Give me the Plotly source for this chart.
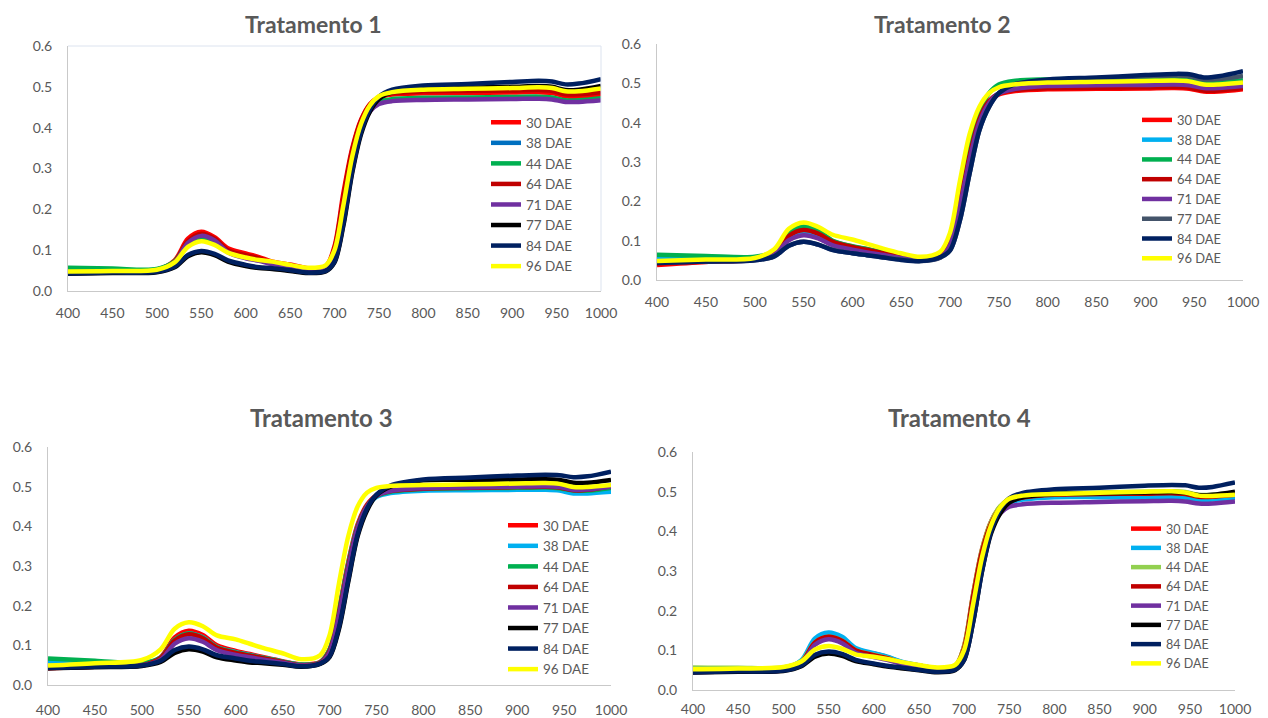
import plotly.graph_objects as go

# Wavelength (nm) sample points
WL = [400, 450, 500, 520, 535, 550, 565, 580, 600, 615, 630, 650, 670, 690, 700,
      710, 720, 730, 740, 750, 765, 800, 850, 900, 930, 945, 960, 975, 1000]

SERIES = ["30 DAE", "38 DAE", "44 DAE", "64 DAE", "71 DAE", "77 DAE", "84 DAE", "96 DAE"]
TITLES = ["Tratamento 1", "Tratamento 2", "Tratamento 3", "Tratamento 4"]
X_TICKS = [400, 450, 500, 550, 600, 650, 700, 750, 800, 850, 900, 950, 1000]
Y_TICKS = [0.0, 0.1, 0.2, 0.3, 0.4, 0.5, 0.6]

# ---- Tratamento 1 ----
T1_30 = [0.050, 0.050, 0.052, 0.075, 0.128, 0.145, 0.132, 0.105, 0.092, 0.083, 0.072, 0.065, 0.056, 0.060, 0.110, 0.240, 0.350, 0.420, 0.458, 0.474, 0.481, 0.484, 0.485, 0.486, 0.487, 0.485, 0.477, 0.476, 0.481]
T1_38 = [0.052, 0.051, 0.052, 0.072, 0.118, 0.132, 0.122, 0.098, 0.084, 0.077, 0.068, 0.062, 0.053, 0.057, 0.100, 0.220, 0.330, 0.405, 0.445, 0.462, 0.468, 0.470, 0.471, 0.472, 0.473, 0.471, 0.465, 0.465, 0.469]
T1_44 = [0.057, 0.055, 0.054, 0.073, 0.118, 0.130, 0.120, 0.097, 0.083, 0.076, 0.068, 0.062, 0.054, 0.058, 0.100, 0.220, 0.330, 0.405, 0.445, 0.463, 0.470, 0.473, 0.474, 0.475, 0.476, 0.474, 0.467, 0.467, 0.472]
T1_64 = [0.046, 0.047, 0.049, 0.071, 0.122, 0.140, 0.128, 0.100, 0.088, 0.080, 0.070, 0.063, 0.054, 0.058, 0.105, 0.230, 0.345, 0.418, 0.457, 0.475, 0.484, 0.489, 0.490, 0.491, 0.492, 0.490, 0.482, 0.482, 0.487]
T1_71 = [0.045, 0.046, 0.048, 0.069, 0.118, 0.135, 0.124, 0.095, 0.080, 0.074, 0.066, 0.060, 0.052, 0.055, 0.090, 0.200, 0.320, 0.400, 0.440, 0.458, 0.465, 0.468, 0.469, 0.470, 0.471, 0.469, 0.463, 0.463, 0.467]
T1_77 = [0.042, 0.044, 0.046, 0.058, 0.085, 0.095, 0.088, 0.072, 0.061, 0.056, 0.054, 0.049, 0.044, 0.048, 0.070, 0.160, 0.290, 0.385, 0.440, 0.470, 0.487, 0.496, 0.498, 0.500, 0.502, 0.500, 0.492, 0.493, 0.502]
T1_84 = [0.043, 0.045, 0.047, 0.060, 0.088, 0.098, 0.091, 0.075, 0.064, 0.058, 0.056, 0.051, 0.045, 0.049, 0.072, 0.165, 0.295, 0.390, 0.445, 0.476, 0.493, 0.503, 0.507, 0.512, 0.515, 0.513, 0.506, 0.508, 0.519]
T1_96 = [0.048, 0.049, 0.052, 0.070, 0.108, 0.122, 0.113, 0.094, 0.082, 0.076, 0.072, 0.064, 0.057, 0.063, 0.100, 0.210, 0.330, 0.410, 0.455, 0.477, 0.487, 0.493, 0.495, 0.497, 0.499, 0.497, 0.489, 0.489, 0.496]

# ---- Tratamento 2 ----
T2_30 = [0.038, 0.046, 0.052, 0.068, 0.112, 0.127, 0.118, 0.098, 0.085, 0.078, 0.070, 0.060, 0.053, 0.060, 0.095, 0.200, 0.320, 0.410, 0.455, 0.472, 0.480, 0.485, 0.486, 0.487, 0.488, 0.486, 0.479, 0.479, 0.485]
T2_38 = [0.055, 0.052, 0.053, 0.066, 0.106, 0.120, 0.111, 0.092, 0.080, 0.073, 0.066, 0.058, 0.051, 0.058, 0.090, 0.190, 0.310, 0.405, 0.452, 0.475, 0.485, 0.492, 0.494, 0.495, 0.495, 0.492, 0.486, 0.487, 0.494]
T2_44 = [0.064, 0.061, 0.059, 0.072, 0.120, 0.136, 0.125, 0.100, 0.086, 0.079, 0.071, 0.061, 0.054, 0.062, 0.095, 0.205, 0.330, 0.425, 0.475, 0.497, 0.506, 0.510, 0.512, 0.514, 0.515, 0.512, 0.503, 0.503, 0.508]
T2_64 = [0.042, 0.047, 0.052, 0.068, 0.112, 0.127, 0.118, 0.097, 0.084, 0.077, 0.069, 0.059, 0.052, 0.059, 0.092, 0.195, 0.315, 0.408, 0.455, 0.474, 0.483, 0.488, 0.489, 0.490, 0.491, 0.489, 0.482, 0.482, 0.488]
T2_71 = [0.045, 0.047, 0.051, 0.064, 0.101, 0.114, 0.106, 0.088, 0.077, 0.070, 0.064, 0.056, 0.050, 0.057, 0.088, 0.185, 0.305, 0.400, 0.450, 0.474, 0.485, 0.493, 0.495, 0.496, 0.497, 0.495, 0.488, 0.488, 0.493]
T2_77 = [0.045, 0.047, 0.050, 0.060, 0.087, 0.097, 0.090, 0.077, 0.068, 0.063, 0.058, 0.052, 0.048, 0.057, 0.075, 0.150, 0.270, 0.380, 0.440, 0.475, 0.496, 0.508, 0.513, 0.518, 0.520, 0.518, 0.510, 0.511, 0.519]
T2_84 = [0.043, 0.047, 0.050, 0.060, 0.087, 0.097, 0.090, 0.076, 0.068, 0.063, 0.058, 0.051, 0.048, 0.058, 0.075, 0.150, 0.270, 0.380, 0.440, 0.475, 0.497, 0.510, 0.515, 0.521, 0.524, 0.523, 0.515, 0.518, 0.531]
T2_96 = [0.048, 0.052, 0.056, 0.078, 0.130, 0.146, 0.135, 0.115, 0.103, 0.092, 0.081, 0.068, 0.059, 0.072, 0.120, 0.250, 0.370, 0.440, 0.475, 0.490, 0.497, 0.502, 0.504, 0.506, 0.507, 0.505, 0.497, 0.497, 0.502]

# ---- Tratamento 3 ----
T3_30 = [0.042, 0.046, 0.050, 0.070, 0.120, 0.137, 0.126, 0.100, 0.086, 0.078, 0.070, 0.060, 0.052, 0.058, 0.090, 0.190, 0.310, 0.405, 0.455, 0.478, 0.488, 0.492, 0.493, 0.494, 0.495, 0.493, 0.487, 0.489, 0.500]
T3_38 = [0.059, 0.056, 0.053, 0.068, 0.114, 0.130, 0.120, 0.096, 0.083, 0.076, 0.068, 0.059, 0.051, 0.057, 0.088, 0.185, 0.305, 0.400, 0.450, 0.474, 0.484, 0.490, 0.491, 0.492, 0.492, 0.490, 0.483, 0.483, 0.487]
T3_44 = [0.067, 0.061, 0.056, 0.069, 0.114, 0.130, 0.119, 0.095, 0.082, 0.075, 0.068, 0.059, 0.051, 0.057, 0.088, 0.185, 0.305, 0.400, 0.452, 0.476, 0.487, 0.494, 0.496, 0.497, 0.498, 0.496, 0.490, 0.490, 0.497]
T3_64 = [0.043, 0.046, 0.050, 0.068, 0.112, 0.128, 0.118, 0.094, 0.081, 0.074, 0.067, 0.058, 0.050, 0.056, 0.085, 0.180, 0.300, 0.398, 0.452, 0.477, 0.489, 0.495, 0.497, 0.499, 0.500, 0.498, 0.491, 0.492, 0.502]
T3_71 = [0.044, 0.046, 0.049, 0.064, 0.104, 0.118, 0.109, 0.088, 0.076, 0.070, 0.064, 0.056, 0.049, 0.055, 0.082, 0.175, 0.295, 0.395, 0.450, 0.477, 0.489, 0.496, 0.498, 0.500, 0.501, 0.499, 0.492, 0.493, 0.500]
T3_77 = [0.042, 0.045, 0.048, 0.058, 0.081, 0.090, 0.084, 0.070, 0.062, 0.057, 0.055, 0.051, 0.046, 0.053, 0.070, 0.140, 0.260, 0.375, 0.440, 0.478, 0.500, 0.516, 0.517, 0.518, 0.519, 0.517, 0.510, 0.510, 0.517]
T3_84 = [0.043, 0.046, 0.049, 0.061, 0.088, 0.097, 0.090, 0.075, 0.067, 0.061, 0.058, 0.053, 0.047, 0.054, 0.072, 0.145, 0.265, 0.380, 0.445, 0.480, 0.503, 0.518, 0.523, 0.528, 0.530, 0.529, 0.524, 0.526, 0.538]
T3_96 = [0.049, 0.055, 0.063, 0.090, 0.142, 0.158, 0.148, 0.125, 0.115, 0.104, 0.093, 0.080, 0.065, 0.075, 0.125, 0.255, 0.375, 0.450, 0.485, 0.497, 0.502, 0.504, 0.506, 0.508, 0.509, 0.507, 0.499, 0.499, 0.504]

# ---- Tratamento 4 ----
T4_30 = [0.048, 0.050, 0.053, 0.072, 0.122, 0.136, 0.126, 0.102, 0.092, 0.083, 0.071, 0.062, 0.055, 0.060, 0.110, 0.240, 0.355, 0.425, 0.462, 0.480, 0.488, 0.494, 0.496, 0.498, 0.499, 0.497, 0.490, 0.490, 0.495]
T4_38 = [0.052, 0.052, 0.054, 0.075, 0.130, 0.145, 0.134, 0.106, 0.093, 0.084, 0.072, 0.062, 0.055, 0.059, 0.105, 0.230, 0.345, 0.415, 0.455, 0.472, 0.480, 0.486, 0.486, 0.486, 0.487, 0.485, 0.479, 0.480, 0.485]
T4_44 = [0.057, 0.056, 0.057, 0.073, 0.120, 0.134, 0.124, 0.100, 0.089, 0.081, 0.070, 0.062, 0.055, 0.060, 0.110, 0.240, 0.355, 0.425, 0.463, 0.481, 0.490, 0.496, 0.498, 0.500, 0.501, 0.499, 0.492, 0.492, 0.497]
T4_64 = [0.046, 0.048, 0.051, 0.070, 0.120, 0.134, 0.124, 0.100, 0.088, 0.080, 0.069, 0.060, 0.053, 0.058, 0.105, 0.235, 0.350, 0.420, 0.458, 0.476, 0.485, 0.492, 0.494, 0.495, 0.496, 0.494, 0.487, 0.487, 0.492]
T4_71 = [0.045, 0.047, 0.050, 0.067, 0.114, 0.128, 0.118, 0.094, 0.083, 0.076, 0.066, 0.058, 0.051, 0.055, 0.095, 0.215, 0.330, 0.405, 0.445, 0.462, 0.468, 0.472, 0.474, 0.476, 0.477, 0.475, 0.470, 0.470, 0.475]
T4_77 = [0.044, 0.046, 0.048, 0.060, 0.084, 0.092, 0.086, 0.073, 0.065, 0.059, 0.055, 0.050, 0.045, 0.050, 0.075, 0.170, 0.300, 0.395, 0.445, 0.472, 0.486, 0.494, 0.496, 0.498, 0.499, 0.497, 0.491, 0.492, 0.500]
T4_84 = [0.045, 0.047, 0.049, 0.062, 0.089, 0.097, 0.091, 0.076, 0.067, 0.061, 0.057, 0.051, 0.046, 0.051, 0.075, 0.170, 0.300, 0.400, 0.455, 0.483, 0.497, 0.506, 0.510, 0.515, 0.517, 0.516, 0.510, 0.512, 0.523]
T4_96 = [0.052, 0.054, 0.058, 0.072, 0.102, 0.111, 0.104, 0.090, 0.084, 0.078, 0.071, 0.063, 0.057, 0.063, 0.100, 0.215, 0.335, 0.415, 0.460, 0.482, 0.490, 0.494, 0.497, 0.500, 0.501, 0.498, 0.490, 0.489, 0.492]

PANEL_DATA = [
    [T1_30, T1_38, T1_44, T1_64, T1_71, T1_77, T1_84, T1_96],
    [T2_30, T2_38, T2_44, T2_64, T2_71, T2_77, T2_84, T2_96],
    [T3_30, T3_38, T3_44, T3_64, T3_71, T3_77, T3_84, T3_96],
    [T4_30, T4_38, T4_44, T4_64, T4_71, T4_77, T4_84, T4_96],
]

PANEL_COLORS = [
    ["#FF0000", "#0070C0", "#00B050", "#C00000", "#7030A0", "#000000", "#002060", "#FFFF00"],
    ["#FF0000", "#00B0F0", "#00B050", "#C00000", "#7030A0", "#44546A", "#002060", "#FFFF00"],
    ["#FF0000", "#00B0F0", "#00B050", "#C00000", "#7030A0", "#000000", "#002060", "#FFFF00"],
    ["#FF0000", "#00B0F0", "#92D050", "#C00000", "#7030A0", "#000000", "#002060", "#FFFF00"],
]

W, H = 1268, 718
FONT = "Lato, 'Open Sans', sans-serif"
TXT = "#595959"

# plot-area pixel boxes: (left, right, top, bottom)
BOXES = [(68, 601, 46, 291), (657, 1243, 44, 280), (48, 611, 447, 685), (693, 1235, 452, 690)]
TITLE_POS = [(313, 24), (942, 24), (322, 417), (959, 417)]
TITLE_SIZE = [23, 23, 24, 24]
LEGEND_POS = [(486, 107), (1137, 105), (503, 510), (1126, 514)]
LEGEND_FONT = [13.5, 12.9, 13.5, 12.5]
X_STANDOFF = [9, 9, 12, 6]

fig = go.Figure()
layout = dict(template="none", width=W, height=H, margin=dict(l=0, r=0, t=0, b=0, pad=0),
              autosize=False, paper_bgcolor="white", plot_bgcolor="white",
              font=dict(family=FONT, color=TXT, size=14), annotations=[], shapes=[])

for p in range(4):
    sfx = "" if p == 0 else str(p + 1)
    leg = "legend" + sfx
    for s, name in enumerate(SERIES):
        fig.add_trace(go.Scatter(
            x=WL, y=PANEL_DATA[p][s], name=name, mode="lines",
            line=dict(color=PANEL_COLORS[p][s], width=4.5, shape="spline", smoothing=0.9),
            xaxis="x" + sfx, yaxis="y" + sfx, legend=leg, showlegend=True,
            hoverinfo="x+y+name"))
    l, r, t, b = BOXES[p]
    lc = "#C9C9C9"
    layout["xaxis" + sfx] = dict(domain=[l / W, r / W], range=[400, 1000], tickvals=X_TICKS,
                                 showline=True, linecolor=lc, linewidth=1, showgrid=False,
                                 zeroline=False, ticks="", anchor="y" + sfx, fixedrange=True,
                                 automargin=False, ticklabelstandoff=X_STANDOFF[p],
                                 tickfont=dict(size=14, color=TXT))
    layout["yaxis" + sfx] = dict(domain=[1 - b / H, 1 - t / H], range=[0, 0.6], tickvals=Y_TICKS,
                                 tickformat=".1f", showline=True, linecolor=lc, linewidth=1,
                                 showgrid=False, zeroline=False, ticks="", anchor="x" + sfx,
                                 fixedrange=True, automargin=False, ticklabelstandoff=12,
                                 tickfont=dict(size=14, color=TXT))
    lx, ly = LEGEND_POS[p]
    layout[leg] = dict(x=lx / W, y=1 - ly / H, xanchor="left", yanchor="top",
                       bgcolor="rgba(0,0,0,0)", borderwidth=0,
                       font=dict(size=LEGEND_FONT[p], color=TXT, family=FONT),
                       itemwidth=30, traceorder="normal")
    tx, ty = TITLE_POS[p]
    layout["annotations"].append(dict(text="<b>" + TITLES[p] + "</b>", x=tx / W, y=1 - ty / H,
                                      xref="paper", yref="paper", showarrow=False,
                                      xanchor="center", yanchor="middle",
                                      font=dict(size=TITLE_SIZE[p], color=TXT, family=FONT)))

# light frame (top/right) around the first plot area
layout["shapes"].append(dict(type="line", xref="x domain", yref="y domain", x0=0, x1=1, y0=1, y1=1,
                             line=dict(color="#DCE3EF", width=1)))
layout["shapes"].append(dict(type="line", xref="x domain", yref="y domain", x0=1, x1=1, y0=0, y1=1,
                             line=dict(color="#DCE3EF", width=1)))

fig.update_layout(**layout)
fig.write_html("out.html", config={"displayModeBar": False},
               post_script="document.body.style.margin='0';")
